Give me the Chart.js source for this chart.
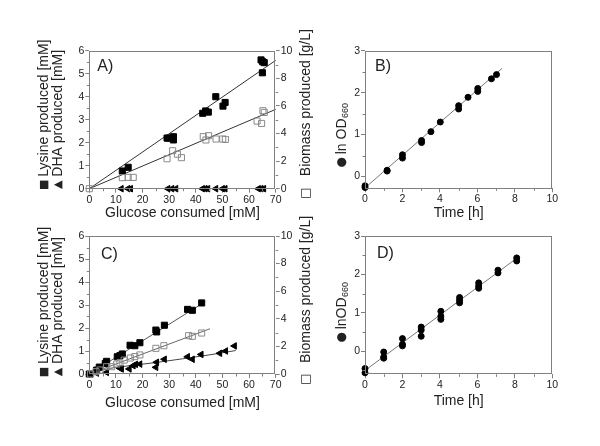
<!DOCTYPE html>
<html>
<head>
<meta charset="utf-8">
<script src="https://cdn.jsdelivr.net/npm/chart.js@4.4.1/dist/chart.umd.min.js"></script>
<style>
  body { margin: 0; background: #fff; }
  #wrap { position: relative; width: 600px; height: 446px; overflow: hidden; }
  canvas { position: absolute; }
</style>
</head>
<body>
<div id="wrap">
  <canvas id="chartA" width="330" height="223" style="left:0;top:0"></canvas>
  <canvas id="chartB" width="270" height="223" style="left:330px;top:0"></canvas>
  <canvas id="chartC" width="330" height="256" style="left:0;top:190px"></canvas>
  <canvas id="chartD" width="270" height="256" style="left:330px;top:190px"></canvas>
</div>
<script>
// ---- panel A: glucose consumed [mM] vs products ----
const aLysX = [12.4, 14.6, 29.2, 29.8, 31.6, 31.6, 42.6, 43.7, 44.7, 47.5, 50.2, 51.0, 64.5, 65.1, 65.7, 65.0];
const aLysY = [0.77, 0.93, 2.20, 2.20, 2.26, 2.12, 3.28, 3.38, 3.33, 4.00, 3.59, 3.75, 5.60, 5.52, 5.48, 5.04];
const aBioX = [0, 12.4, 14.6, 16.5, 29.2, 31.3, 33.1, 34.6, 42.8, 43.8, 44.8, 47.6, 50.1, 51.1, 63.0, 64.7, 65.2, 65.7];
const aBioY = [0, 0.80, 0.82, 0.82, 2.17, 2.75, 2.50, 2.25, 3.77, 3.53, 3.84, 3.60, 3.60, 3.57, 4.90, 4.73, 5.65, 5.53];
const aDhaX = [12.0, 14.5, 15.5, 29.5, 31.0, 32.5, 42.5, 43.5, 44.5, 47.5, 50.0, 51.0, 63.5, 64.5, 65.5];
const aDhaY = [0, 0, 0, 0, 0, 0, 0, 0, 0, 0, 0, 0, 0, 0, 0];
const aLysFitX = [0, 70];
const aLysFitY = [0, 5.58];
const aBioFitX = [0, 70];
const aBioFitY = [0, 5.75];

// ---- panel B: time [h] vs ln OD660 ----
const bTime = [0, 0, 1.18, 1.18, 2, 2, 3.02, 3.02, 3.52, 4.02, 5, 5, 5.5, 6.02, 6.02, 6.75, 7.02];
const bLnOD = [-0.22, -0.26, 0.15, 0.13, 0.52, 0.44, 0.86, 0.81, 1.07, 1.30, 1.69, 1.61, 1.89, 2.10, 2.03, 2.33, 2.43];
const bFitX = [0, 7.32];
const bFitY = [-0.27, 2.58];

// ---- panel C ----
const cLysX = [0, 2.75, 3.75, 6, 6.5, 10.5, 11.5, 12.4, 15.3, 17.1, 19, 25, 25.3, 28.2, 36.9, 38.7, 42.2];
const cLysY = [0, 0.17, 0.30, 0.46, 0.55, 0.75, 0.80, 0.87, 1.25, 1.23, 1.36, 1.91, 1.83, 2.12, 2.81, 2.77, 3.09];
const cBioX = [0.5, 2.5, 4, 6.5, 8.4, 10.3, 11.5, 13.1, 15.4, 17.1, 19, 25, 28, 37.3, 38.7, 42.2];
const cBioY = [0, 0.17, 0.29, 0.53, 0.53, 0.72, 0.82, 1.01, 1.16, 1.26, 1.38, 1.86, 2.05, 2.78, 2.73, 2.97];
const cDhaX = [0.6, 2.75, 6.5, 11.5, 12.1, 15, 16.5, 17.4, 19, 25.3, 25, 28.2, 36.9, 38.7, 42, 49, 51.2, 54.5];
const cDhaY = [0, 0.04, 0.07, 0.25, 0.22, 0.22, 0.36, 0.42, 0.43, 0.51, 0.29, 0.64, 0.75, 0.64, 0.85, 0.90, 1.00, 1.22];
const cLysFitX = [0, 43.5];
const cLysFitY = [0, 3.14];
const cBioFitX = [0, 45.3];
const cBioFitY = [0, 3.28];
const cDhaFitX = [0, 3, 8, 15, 25, 35, 45, 55];
const cDhaFitY = [0, 0.12, 0.25, 0.36, 0.50, 0.66, 0.83, 1.02];

// ---- panel D ----
const dTime = [0, 0, 1, 1, 1, 2, 2, 2, 3, 3, 3, 4.05, 4.05, 4.05, 5.05, 5.05, 5.05, 6.07, 6.07, 6.07, 7.1, 7.1, 8.1, 8.1];
const dLnOD = [-0.45, -0.56, -0.02, -0.15, -0.18, 0.33, 0.18, 0.14, 0.63, 0.55, 0.39, 1.04, 0.91, 0.83,
               1.40, 1.33, 1.26, 1.78, 1.70, 1.64, 2.11, 2.04, 2.43, 2.35];
const dFitX = [0, 8.1];
const dFitY = [-0.5, 2.42];

const FONT = "'Liberation Sans', Arial, sans-serif";
const AXIS = "#808080";
const TXT = "#222";

Chart.defaults.font.family = FONT;
Chart.defaults.color = TXT;

function pts(xs, ys) {
  return xs.map((x, i) => ({ x: x, y: ys[i] }));
}

function points(xs, ys, style, filled, r, axis) {
  return {
    data: pts(xs, ys),
    pointStyle: style,
    pointRadius: r,
    pointRotation: style === "triangle" ? 270 : 0,
    backgroundColor: filled ? "#000" : "rgba(0,0,0,0)",
    borderColor: filled ? "#000" : "#8a8a8a",
    borderWidth: 1,
    clip: false,
    yAxisID: axis || "y",
  };
}

function fit(xs, ys, color, axis, curved) {
  return {
    data: pts(xs, ys),
    showLine: true,
    pointRadius: 0,
    borderColor: color,
    borderWidth: 1,
    tension: curved ? 0.4 : 0,
    cubicInterpolationMode: curved ? "monotone" : "default",
    clip: false,
    yAxisID: axis || "y",
  };
}

// frame, minor ticks, panel letter and axis titles
const decor = {
  id: "decor",
  afterDraw(chart, args, o) {
    const ctx = chart.ctx, a = chart.chartArea;
    ctx.save();
    ctx.strokeStyle = AXIS;
    ctx.lineWidth = 1;
    ctx.strokeRect(Math.round(a.left) + 0.5, Math.round(a.top) + 0.5,
                   Math.round(a.right - a.left) - 1, Math.round(a.bottom - a.top) - 1);

    // minor ticks
    (o.minor || []).forEach(m => {
      const s = chart.scales[m.axis];
      ctx.beginPath();
      for (let v = m.from; v <= m.to + 1e-9; v += m.step) {
        const p = Math.round(s.getPixelForValue(v)) + 0.5;
        if (s.isHorizontal()) {
          ctx.moveTo(p, a.bottom); ctx.lineTo(p, a.bottom + 2.5);
        } else if (s.position === "left") {
          ctx.moveTo(a.left, p); ctx.lineTo(a.left - 2.5, p);
        } else {
          ctx.moveTo(a.right, p); ctx.lineTo(a.right + 2.5, p);
        }
      }
      ctx.stroke();
    });

    ctx.fillStyle = TXT;
    ctx.font = "16px " + FONT;
    ctx.textAlign = "left";
    ctx.textBaseline = "alphabetic";
    ctx.fillText(o.label, a.left + o.lx, a.top + o.ly);

    ctx.font = "14px " + FONT;
    ctx.textAlign = "center";
    ctx.textBaseline = "middle";
    ctx.fillText(o.xTitle, (a.left + a.right) / 2, a.bottom + o.xDy);

    o.yTitles.forEach(t => {
      const x = t.side === "right" ? a.right + t.dx : a.left + t.dx;
      const y = a.bottom + t.dy;
      ctx.save();
      ctx.translate(x, y);
      ctx.rotate(-Math.PI / 2);
      ctx.textBaseline = "middle";
      ctx.textAlign = "left";
      ctx.font = "14px " + FONT;
      ctx.fillText(t.text, 0, 0);
      if (t.sub) {
        const w = ctx.measureText(t.text).width;
        ctx.font = "9px " + FONT;
        ctx.fillText(t.sub, w + 0.5, 4);
      }
      ctx.font = t.msize + "px 'DejaVu Sans'";
      ctx.textAlign = "center";
      ctx.fillText(t.marker, t.dy - t.mdy, 0);
      ctx.restore();
    });
    ctx.restore();
  },
};

function axisX(min, max, step, h) {
  return {
    type: "linear", position: "bottom", min: min, max: max,
    border: { display: false },
    grid: { drawOnChartArea: false, tickLength: 4, tickColor: AXIS },
    ticks: { stepSize: step, padding: 1, maxRotation: 0, autoSkip: false, font: { size: 10.5 }, color: TXT },
    afterFit: s => { s.height = h; },
  };
}

function axisY(min, max, step, w, pos) {
  return {
    type: "linear", position: pos || "left", min: min, max: max,
    border: { display: false },
    grid: { drawOnChartArea: false, tickLength: 4, tickColor: AXIS },
    ticks: { stepSize: step, padding: 1, includeBounds: false, font: { size: 10.5 }, color: TXT },
    afterFit: s => { s.width = w; },
  };
}

function base(scales, padding, decorOpts) {
  return {
    responsive: false,
    animation: false,
    events: [],
    layout: { padding: padding },
    scales: scales,
    plugins: { legend: { display: false }, tooltip: { enabled: false }, decor: decorOpts },
  };
}

// panel A
new Chart(document.getElementById("chartA"), {
  type: "scatter",
  plugins: [decor],
  data: {
    datasets: [
      points(aBioX, aBioY, "rect", false, 4.3, "y2"),
      points(aDhaX, aDhaY, "triangle", true, 3.8, "y"),
      points(aLysX, aLysY, "rect", true, 4.3, "y"),
      fit(aLysFitX, aLysFitY, "#333", "y"),
      fit(aBioFitX, aBioFitY, "#333", "y2"),
    ],
  },
  options: base(
    { x: axisX(0, 70, 10, 34.3), y: axisY(0, 6, 1, 89.3), y2: axisY(0, 10, 2, 54.3, "right") },
    { top: 50.7 },
    {
      label: "A)", lx: 8, ly: 20, xTitle: "Glucose consumed [mM]", xDy: 24.5,
      minor: [{ axis: "x", from: 5, to: 65, step: 10 }, { axis: "y", from: 0.5, to: 5.5, step: 1 },
              { axis: "y2", from: 1, to: 9, step: 2 }],
      yTitles: [
        { side: "left", dx: -45.3, dy: -12, text: "Lysine produced [mM]", marker: "\u25A0", mdy: -4, msize: 11 },
        { side: "left", dx: -30.8, dy: -12, text: "DHA produced [mM]", marker: "\u25B2", mdy: -4, msize: 11 },
        { side: "right", dx: 30.3, dy: -12.5, text: "Biomass produced [g/L]", marker: "\u25A1", mdy: 4.5, msize: 12 },
      ],
    }
  ),
});

// panel B
new Chart(document.getElementById("chartB"), {
  type: "scatter",
  plugins: [decor],
  data: {
    datasets: [
      points(bTime, bLnOD, "circle", true, 3),
      fit(bFitX, bFitY, "#777"),
    ],
  },
  options: base(
    { x: axisX(0, 10, 2, 34.7), y: axisY(-0.28, 3, 1, 35) },
    { top: 50.7, right: 47.7 },
    {
      label: "B)", lx: 10, ly: 20, xTitle: "Time [h]", xDy: 25,
      minor: [{ axis: "x", from: 1, to: 9, step: 2 }, { axis: "y", from: 0.5, to: 2.5, step: 1 }],
      yTitles: [
        { side: "left", dx: -23, dy: -34, text: "ln OD", sub: "660", marker: "\u25CF", mdy: -26, msize: 12 },
      ],
    }
  ),
});

// panel C
new Chart(document.getElementById("chartC"), {
  type: "scatter",
  plugins: [decor],
  data: {
    datasets: [
      points(cBioX, cBioY, "rect", false, 4.3, "y2"),
      points(cDhaX, cDhaY, "triangle", true, 3.8, "y"),
      points(cLysX, cLysY, "rect", true, 4.3, "y"),
      fit(cLysFitX, cLysFitY, "#555", "y"),
      fit(cBioFitX, cBioFitY, "#666", "y2"),
      fit(cDhaFitX, cDhaFitY, "#444", "y", true),
    ],
  },
  options: base(
    { x: axisX(0, 70, 10, 72), y: axisY(0, 6, 1, 89.3), y2: axisY(0, 10, 2, 54.3, "right") },
    { top: 46 },
    {
      label: "C)", lx: 11.7, ly: 23, xTitle: "Glucose consumed [mM]", xDy: 29,
      minor: [{ axis: "x", from: 5, to: 65, step: 10 }, { axis: "y", from: 0.5, to: 5.5, step: 1 },
              { axis: "y2", from: 1, to: 9, step: 2 }],
      yTitles: [
        { side: "left", dx: -45.3, dy: -10, text: "Lysine produced [mM]", marker: "\u25A0", mdy: -2, msize: 11 },
        { side: "left", dx: -30.8, dy: -10, text: "DHA produced [mM]", marker: "\u25B2", mdy: -2, msize: 11 },
        { side: "right", dx: 30.3, dy: -11, text: "Biomass produced [g/L]", marker: "\u25A1", mdy: 5, msize: 12 },
      ],
    }
  ),
});

// panel D
new Chart(document.getElementById("chartD"), {
  type: "scatter",
  plugins: [decor],
  data: {
    datasets: [
      points(dTime, dLnOD, "circle", true, 3),
      fit(dFitX, dFitY, "#777"),
    ],
  },
  options: base(
    { x: axisX(0, 10, 2, 71.7), y: axisY(-0.6, 3, 1, 35) },
    { top: 46, right: 47.7 },
    {
      label: "D)", lx: 12, ly: 21.7, xTitle: "Time [h]", xDy: 26.7,
      minor: [{ axis: "x", from: 1, to: 9, step: 2 }, { axis: "y", from: -0.5, to: 2.5, step: 1 }],
      yTitles: [
        { side: "left", dx: -23, dy: -45, text: "lnOD", sub: "660", marker: "\u25CF", mdy: -37, msize: 12 },
      ],
    }
  ),
});
</script>
</body>
</html>
